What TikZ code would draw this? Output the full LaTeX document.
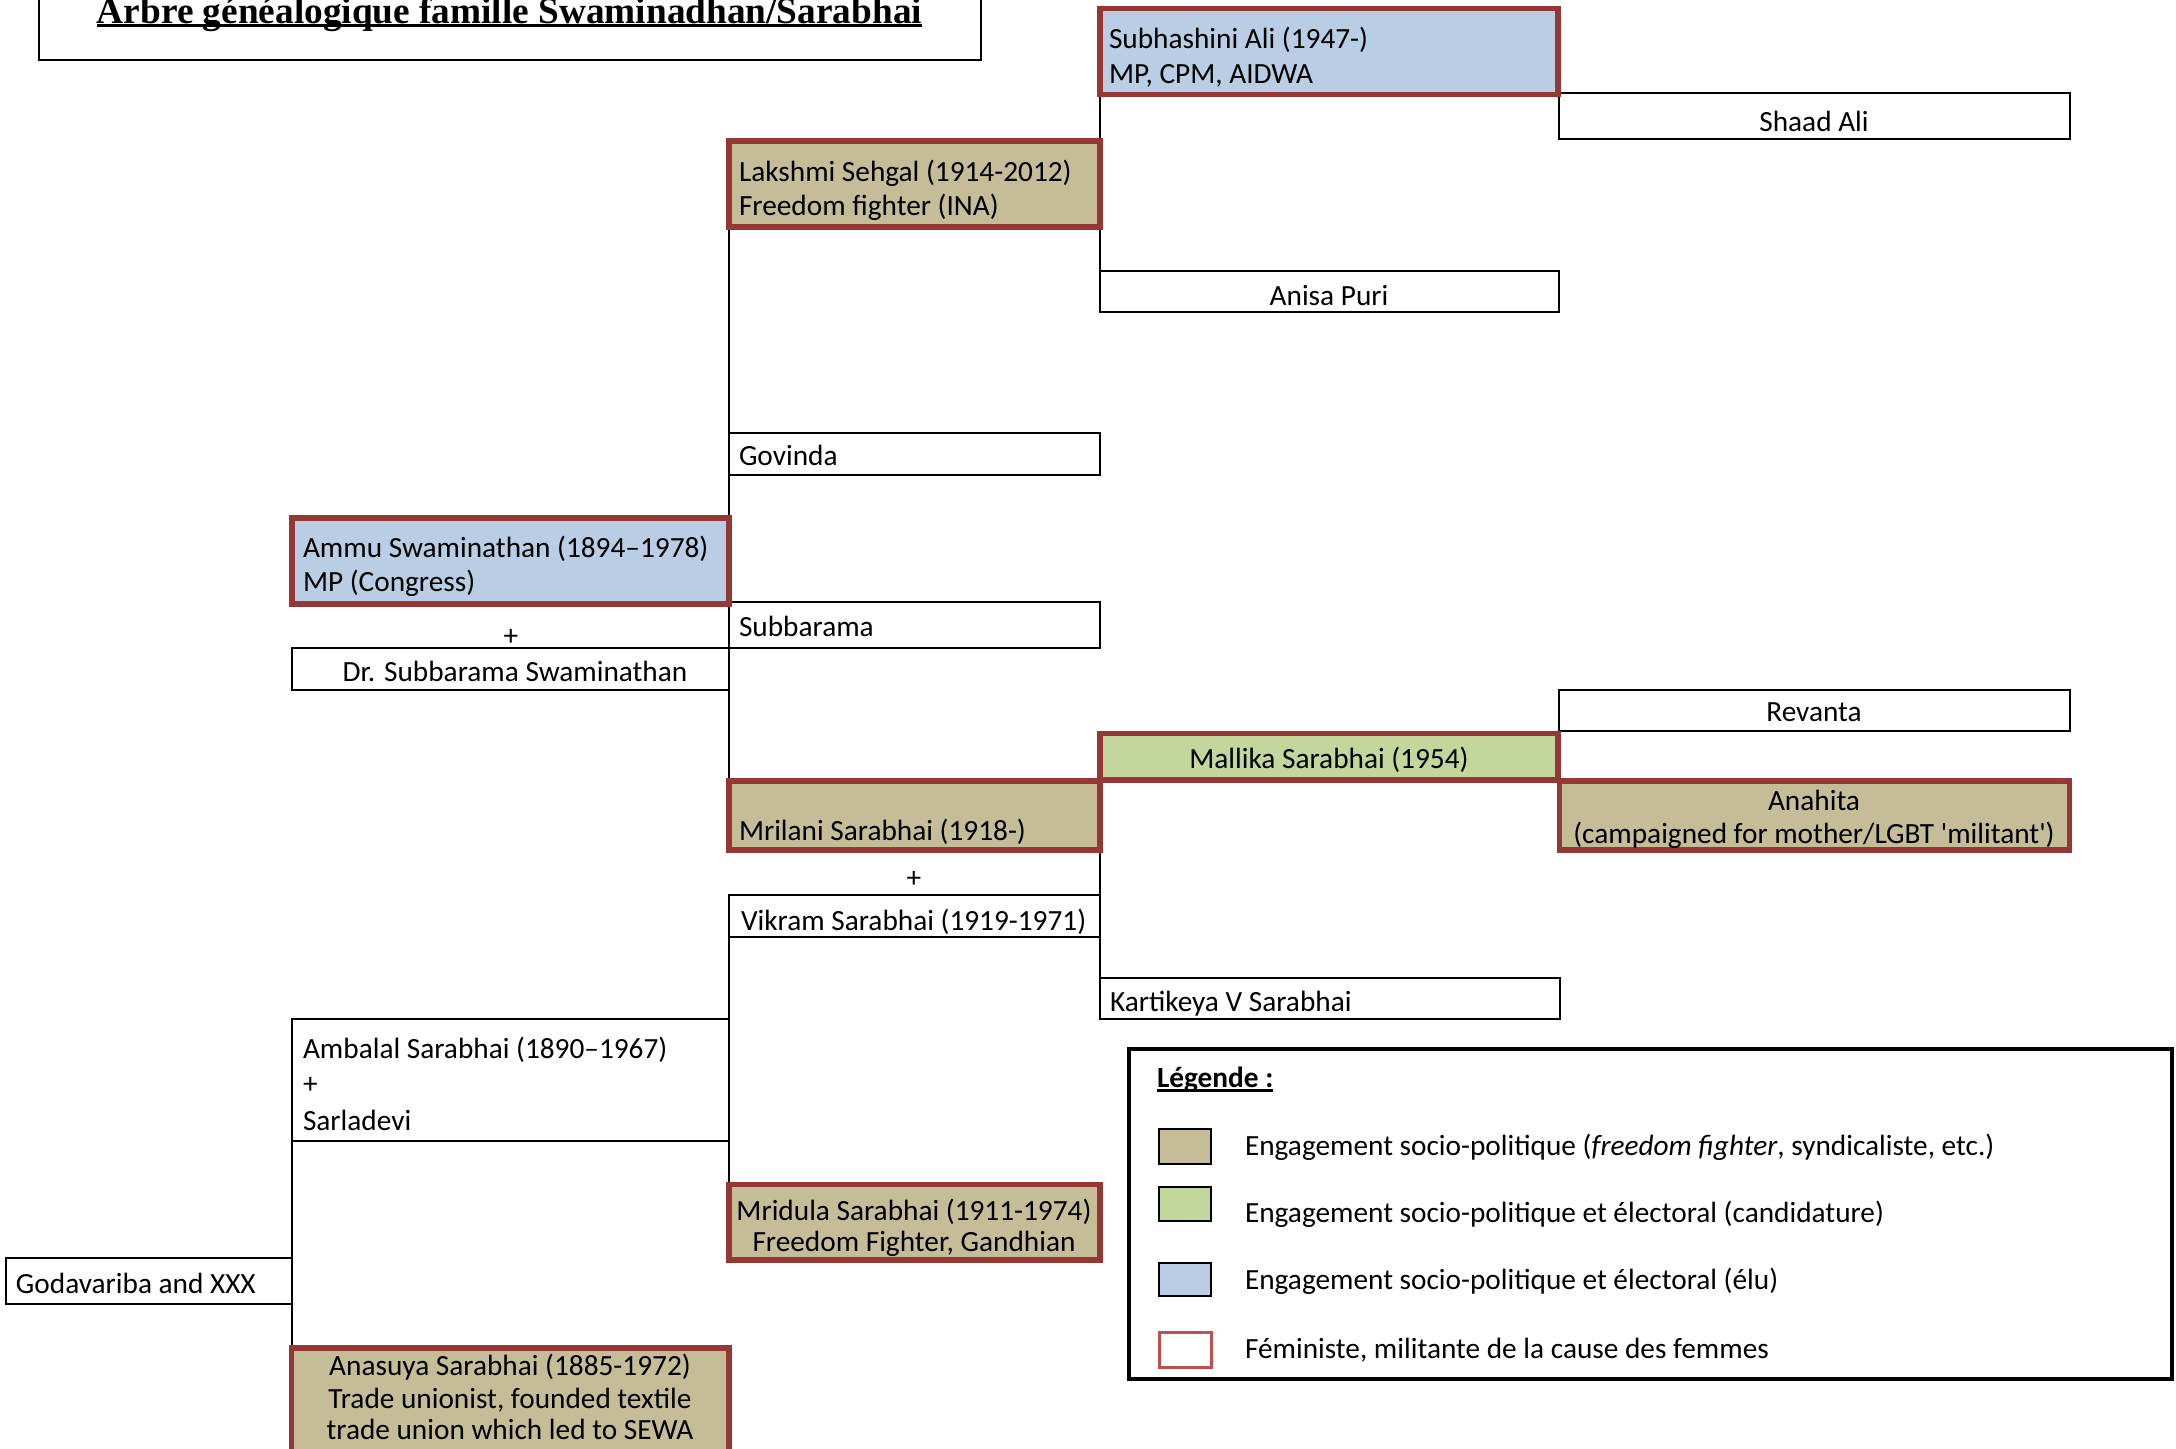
\documentclass[tikz,border=0pt]{standalone}
\usepackage{fontspec}
\setmainfont{Carlito}[Ligatures=TeXOff]
\newfontfamily\titlefont{Liberation Serif}
\usetikzlibrary{fit}
\pgfdeclarelayer{bg}
\pgfsetlayers{bg,main}
\definecolor{tanc}{HTML}{C4BD97}
\definecolor{bluec}{HTML}{B9CDE5}
\definecolor{greenc}{HTML}{C3D69B}
\definecolor{redb}{HTML}{953735}
\definecolor{redl}{HTML}{C0504D}
\begin{document}
\begin{tikzpicture}[x=1pt,y=-1pt,
  every node/.style={inner sep=0pt, outer sep=0pt},
  plain/.style={draw=black, line width=2pt, fill=white},
  fem/.style={draw=redb, line width=5.5pt},
  link/.style={draw=black, line width=2pt},
  txt/.style={font=\fontsize{29.3}{35}\selectfont, anchor=base west, text=black},
  ctxt/.style={font=\fontsize{29.3}{35}\selectfont, anchor=base, text=black},
  swatch/.style={draw=black, line width=2.5pt},
]
\begin{pgfonlayer}{bg}
\clip (0,0) rectangle (2176,1448);
\fill[white] (0,0) rectangle (2176,1448);
\end{pgfonlayer}
\clip (0,0) rectangle (2176,1448);

% ---------- title ----------
\node[plain, fit={(38.6,-20) (980.7,60)}] (titlebox) {};
\node[font=\titlefont\bfseries\fontsize{37.3}{40}\selectfont, anchor=base] (title) at (509.5,23.3) {Arbre généalogique famille Swaminadhan/Sarabhai};
\draw[line width=3pt] ([yshift=-2.5pt]title.base west) -- ([yshift=-2.5pt]title.base east);

% ---------- plain boxes ----------
\node[plain, fit={(1559,93) (2070,139)}] (shaad) {};
\node[plain, fit={(1100,271) (1559,312)}] (anisa) {};
\node[plain, fit={(729,433) (1100,475)}] (gov) {};
\node[plain, fit={(729,602) (1100,647.7)}] (subb) {};
\node[plain, fit={(291.5,648) (729,690)}] (drsub) {};
\node[plain, fit={(1559,690) (2070,731)}] (rev) {};
\node[plain, fit={(729,895) (1100,937)}] (vik) {};
\node[plain, fit={(1100,978) (1560,1019)}] (kart) {};
\node[plain, fit={(291.5,1019) (729,1141)}] (amb) {};
\node[plain, fit={(6,1258) (291.5,1304)}] (goda) {};

% ---------- feminist (red) boxes ----------
\node[fem, fill=bluec, fit={(1100,8.5) (1558,94.3)}] (subh) {};
\node[fem, fill=tanc, fit={(729,141) (1100,227)}] (lak) {};
\node[fem, fill=bluec, fit={(292,518) (729,604)}] (ammu) {};
\node[fem, fill=greenc, fit={(1100,733.5) (1558,780)}] (mal) {};
\node[fem, fill=tanc, fit={(1559.5,781) (2069.7,850)}] (anah) {};
\node[fem, fill=tanc, fit={(729,781) (1100,850)}] (mril) {};
\node[fem, fill=tanc, fit={(729,1184.5) (1100,1260)}] (mrid) {};
\node[fem, fill=tanc, fit={(291.5,1348) (729,1480)}] (anas) {};

% ---------- connectors (behind the boxes) ----------
\begin{pgfonlayer}{bg}
\draw[link] (subh.south west) -- (anisa.north west);
\draw[link] (lak.south west) -- (gov.north west);
\draw[link] (gov.south west) -- (subb.north west);
\draw[link] (subb.south west) -- (mril.north west);
\draw[link] (mril.south east) -- (vik.north east);
\draw[link] (vik.south east) -- (kart.north west);
\draw[link] (vik.south west) -- (amb.north east);
\draw[link] (amb.south east) -- (mrid.north west);
\draw[link] (amb.south west) -- (goda.north east);
\draw[link] (goda.south east) -- (anas.north west);
\end{pgfonlayer}

% ---------- texts ----------
\node[txt] (t-subh1) at (1109,48) {Subhashini Ali (1947-)};
\node[txt] (t-subh2) at (1109,83) {MP, CPM, AIDWA};
\node[ctxt] (t-shaad) at (1814,131.7) {Shaad Ali};
\node[txt] (t-lak1) at (739,181.7) {Lakshmi Sehgal (1914-2012)};
\node[txt] (t-lak2) at (739,215) {Freedom fighter (INA)};
\node[ctxt] (t-anisa) at (1329,305) {Anisa Puri};
\node[txt] (t-gov) at (739,465.7) {Govinda};
\node[txt] (t-ammu1) at (303,557) {Ammu Swaminathan (1894–1978)};
\node[txt] (t-ammu2) at (303,591.7) {MP (Congress)};
\node[ctxt] (t-plus1) at (511,645) {+};
\node[ctxt] (t-drsub) at (515,681.7) {Dr. Subbarama Swaminathan};
\node[txt] (t-subb) at (739,636.7) {Subbarama};
\node[ctxt] (t-rev) at (1814,721) {Revanta};
\node[ctxt] (t-mal) at (1329,768) {Mallika Sarabhai (1954)};
\node[ctxt] (t-anah1) at (1814,810) {Anahita};
\node[ctxt] (t-anah2) at (1814,843) {(campaigned for mother/LGBT 'militant')};
\node[txt] (t-mril) at (739,840) {Mrilani Sarabhai (1918-)};
\node[ctxt] (t-plus2) at (914,887) {+};
\node[txt] (t-vik) at (741,930) {Vikram Sarabhai (1919-1971)};
\node[txt] (t-kart) at (1110,1011) {Kartikeya V Sarabhai};
\node[txt] (t-amb1) at (303,1058) {Ambalal Sarabhai (1890–1967)};
\node[txt] (t-amb2) at (303,1093) {+};
\node[txt] (t-amb3) at (303,1130) {Sarladevi};
\node[ctxt] (t-mrid1) at (914,1220) {Mridula Sarabhai (1911-1974)};
\node[ctxt] (t-mrid2) at (914,1251.7) {Freedom Fighter, Gandhian};
\node[txt] (t-goda) at (16,1293) {Godavariba and XXX};
\node[ctxt] (t-anas1) at (510,1375) {Anasuya Sarabhai (1885-1972)};
\node[ctxt] (t-anas2) at (510,1408) {Trade unionist, founded textile};
\node[ctxt] (t-anas3) at (510,1439) {trade union which led to SEWA};

% ---------- legend ----------
\node[draw=black, line width=3.5pt, fill=white, fit={(1129,1049) (2172,1379)}] (legend) {};
\node[txt, font=\bfseries\fontsize{29.3}{35}\selectfont] (leg) at (1157,1087) {Légende :};
\draw[line width=2.5pt] ([yshift=-3.5pt]leg.base west) -- ([yshift=-3.5pt]leg.base east);
\node[swatch, fill=tanc, fit={(1159,1129) (1211,1164)}] (sw1) {};
\node[swatch, fill=greenc, fit={(1159,1187) (1211,1221)}] (sw2) {};
\node[swatch, fill=bluec, fit={(1159,1263) (1211,1296)}] (sw3) {};
\node[draw=redl, line width=3pt, fill=white, fit={(1159,1332) (1211,1367)}] (sw4) {};
\node[txt] (l1) at (1245,1155) {Engagement socio-politique (\textit{freedom fighter}, syndicaliste, etc.)};
\node[txt] (l2) at (1245,1222) {Engagement socio-politique et électoral (candidature)};
\node[txt] (l3) at (1245,1289) {Engagement socio-politique et électoral (élu)};
\node[txt] (l4) at (1245,1358) {Féministe, militante de la cause des femmes};
\end{tikzpicture}
\end{document}
